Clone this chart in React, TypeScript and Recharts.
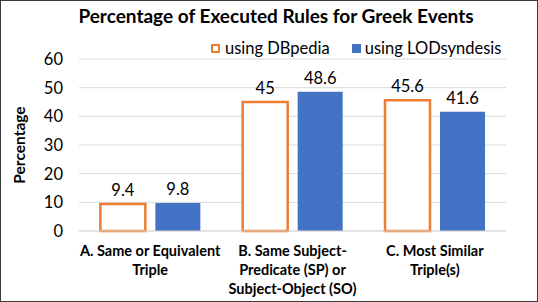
import { Bar, BarChart, CartesianGrid, LabelList, XAxis, YAxis } from "recharts";

const categories = [
  "A. Same or Equivalent\nTriple",
  "B. Same Subject-\nPredicate (SP) or\nSubject-Object (SO)",
  "C. Most Similar\nTriple(s)",
];
const dbpedia = [9.4, 45, 45.6];
const lodsyndesis = [9.8, 48.6, 41.6];
const yTicks = [0, 10, 20, 30, 40, 50, 60];

const FONT = "Lato, 'Open Sans', sans-serif";
const ORANGE = "#ED7D31";
const BLUE = "#4472C4";

const data = categories.map((c, i) => ({ cat: c, db: dbpedia[i], lod: lodsyndesis[i] }));

// x 轴类目 — 多行粗体居中
const CatTick = (props: any) => {
  const { x, y, payload } = props;
  const lines = String(payload.value).split("\n");
  return (
    <text x={x} y={y} textAnchor="middle" fontFamily={FONT} fontSize={14.5} fontWeight={700} fill="#000">
      {lines.map((l, i) => (
        <tspan key={i} x={x} dy={i === 0 ? 17 : 19}>
          {l}
        </tspan>
      ))}
    </text>
  );
};

export default function App() {
  return (
    <div
      style={{
        position: "absolute",
        left: 0,
        top: 0,
        width: 538,
        height: 302,
        border: "1px solid #3a3a3a",
        boxSizing: "border-box",
        background: "#fff",
      }}
    >
      <div
        style={{
          position: "absolute",
          left: 0,
          width: 536,
          top: 3,
          textAlign: "center",
          paddingLeft: 14,
          boxSizing: "border-box",
          fontFamily: FONT,
          fontWeight: 700,
          fontSize: 19,
          color: "#000",
        }}
      >
        Percentage of Executed Rules for Greek Events
      </div>
      <div
        style={{
          position: "absolute",
          left: 210,
          top: 37,
          display: "flex",
          alignItems: "center",
          fontFamily: FONT,
          fontSize: 16.5,
          color: "#000",
          whiteSpace: "nowrap",
        }}
      >
        <span style={{ width: 5, height: 5, border: `2.5px solid ${ORANGE}`, background: "#fff", marginRight: 5 }} />
        <span style={{ marginRight: 22 }}>using DBpedia</span>
        <span style={{ width: 9, height: 9, background: BLUE, marginRight: 4 }} />
        <span>using LODsyndesis</span>
      </div>
      <div
        style={{
          position: "absolute",
          left: 0,
          top: 144,
          width: 36,
          height: 0,
          display: "flex",
          justifyContent: "center",
        }}
      >
        <div style={{ transform: "rotate(-90deg)", whiteSpace: "nowrap", fontFamily: FONT, fontWeight: 700, fontSize: 15.5, lineHeight: "0px" }}>
          Percentage
        </div>
      </div>
      <BarChart
        width={536}
        height={300}
        data={data}
        margin={{ top: 58, right: 31, bottom: 0, left: 0 }}
        barCategoryGap="15%"
        barGap={10}
      >
        <CartesianGrid stroke="#D9D9D9" vertical={false} />
        <XAxis
          dataKey="cat"
          interval={0}
          tick={<CatTick />}
          tickLine={false}
          axisLine={{ stroke: "#D9D9D9" }}
          height={70}
        />
        <YAxis
          domain={[0, 60]}
          ticks={yTicks}
          width={78}
          tickSize={0}
          tickMargin={16}
          axisLine={false}
          tick={{ fontSize: 16.5, fill: "#000", fontFamily: FONT }}
        />
        <Bar dataKey="db" name="using DBpedia" fill="#fff" stroke={ORANGE} strokeWidth={2.5} isAnimationActive={false}>
          <LabelList dataKey="db" position="top" offset={8} style={{ fontSize: 16.5, fill: "#000", fontFamily: FONT }} />
        </Bar>
        <Bar dataKey="lod" name="using LODsyndesis" fill={BLUE} isAnimationActive={false}>
          <LabelList dataKey="lod" position="top" offset={8} style={{ fontSize: 16.5, fill: "#000", fontFamily: FONT }} />
        </Bar>
      </BarChart>
    </div>
  );
}
